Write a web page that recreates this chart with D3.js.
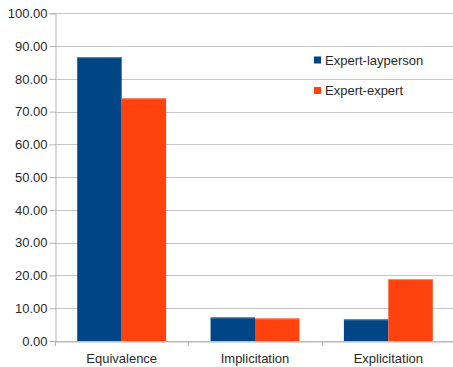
<!DOCTYPE html>
<html>
<head>
<meta charset="utf-8">
<script src="https://cdn.jsdelivr.net/npm/d3@7"></script>
<style>
  html, body { margin: 0; padding: 0; background: #fff; }
  svg { display: block; }
  text { font-family: "Liberation Sans", Arial, sans-serif; }
</style>
</head>
<body>
<svg id="chart" width="453" height="367"></svg>
<script>
// Data
const categories = ["Equivalence", "Implicitation", "Explicitation"];
const seriesNames = ["Expert-layperson", "Expert-expert"];
const expertLayperson = [86.6, 7.2, 6.6];
const expertExpert = [74.1, 6.9, 18.9];
const yTicks = [0, 10, 20, 30, 40, 50, 60, 70, 80, 90, 100];
const colors = ["#004586", "#ff420e"];

const seriesValues = [expertLayperson, expertExpert];

const svg = d3.select("#chart");
const margin = { left: 55, right: -2, top: 13.3, bottom: 26 };
const W = 453, H = 367;
const x0 = margin.left, x1 = W - margin.right;
const yTop = margin.top, yBot = 341;

const x = d3.scaleBand().domain(categories).range([x0, x1]).paddingInner(0).paddingOuter(0);
const xs = d3.scaleBand().domain(seriesNames).range([0, x.bandwidth()]).paddingInner(0).paddingOuter(0.5);
const y = d3.scaleLinear().domain([0, 100]).range([yBot, yTop]);

// Horizontal grid lines
svg.append("g")
  .selectAll("line")
  .data(yTicks)
  .join("line")
  .attr("x1", x0).attr("x2", x1)
  .attr("y1", d => Math.round(y(d)) + 0.5).attr("y2", d => Math.round(y(d)) + 0.5)
  .attr("stroke", "#c6c6c6").attr("stroke-width", 1);

// Y axis
const yAxis = d3.axisLeft(y).tickValues(yTicks).tickFormat(d3.format(".2f")).tickSize(6).tickPadding(2);
const gy = svg.append("g").attr("transform", `translate(${x0 + 0.5},0)`).call(yAxis);
gy.select(".domain").attr("stroke", "#b3b3b3");
gy.selectAll(".tick line").attr("stroke", "#b3b3b3");
gy.selectAll(".tick text").attr("font-size", 13).attr("fill", "#2a2a2a")
  .attr("font-family", "'Liberation Sans', Arial, sans-serif");

// Bars
const groups = svg.append("g")
  .selectAll("g")
  .data(categories)
  .join("g")
  .attr("transform", d => `translate(${x(d)},0)`);

groups.selectAll("rect")
  .data((c, i) => seriesNames.map((s, j) => ({ s, v: seriesValues[j][i], j })))
  .join("rect")
  .attr("x", d => xs(d.s))
  .attr("width", xs.bandwidth())
  .attr("y", d => y(d.v))
  .attr("height", d => yBot - y(d.v))
  .attr("fill", d => colors[d.j]);

// Bar top highlight edge
groups.selectAll("line.edge")
  .data((c, i) => seriesNames.map((s, j) => ({ s, v: seriesValues[j][i], j })))
  .join("line")
  .attr("class", "edge")
  .attr("x1", d => xs(d.s)).attr("x2", d => xs(d.s) + xs.bandwidth())
  .attr("y1", d => y(d.v) + 0.5).attr("y2", d => y(d.v) + 0.5)
  .attr("stroke", d => d.j === 0 ? "#5f88b4" : "#ff8a6a").attr("stroke-width", 1);

// X axis
const xAxis = d3.axisBottom(x).tickSize(0).tickPadding(12);
const gx = svg.append("g").attr("transform", `translate(0,${yBot + 0.5})`).call(xAxis);
gx.select(".domain").attr("stroke", "#b3b3b3");
gx.selectAll(".tick text").attr("font-size", 13).attr("fill", "#2a2a2a")
  .attr("font-family", "'Liberation Sans', Arial, sans-serif");

// Category boundary ticks
svg.append("g")
  .selectAll("line")
  .data(categories)
  .join("line")
  .attr("x1", d => Math.round(x(d)) + 0.5).attr("x2", d => Math.round(x(d)) + 0.5)
  .attr("y1", yBot).attr("y2", yBot + 5)
  .attr("stroke", "#b3b3b3");

// Legend
const legend = svg.append("g").attr("transform", "translate(314,60)");
const li = legend.selectAll("g")
  .data(seriesNames)
  .join("g")
  .attr("transform", (d, i) => `translate(0,${i * 30.5})`);
li.append("rect")
  .attr("x", 0).attr("y", -3.5).attr("width", 7).attr("height", 7)
  .attr("fill", (d, i) => colors[i]);
li.append("text")
  .attr("x", 11).attr("y", 0).attr("dy", "0.35em")
  .attr("font-size", 13).attr("fill", "#2a2a2a")
  .text(d => d);
</script>
</body>
</html>
